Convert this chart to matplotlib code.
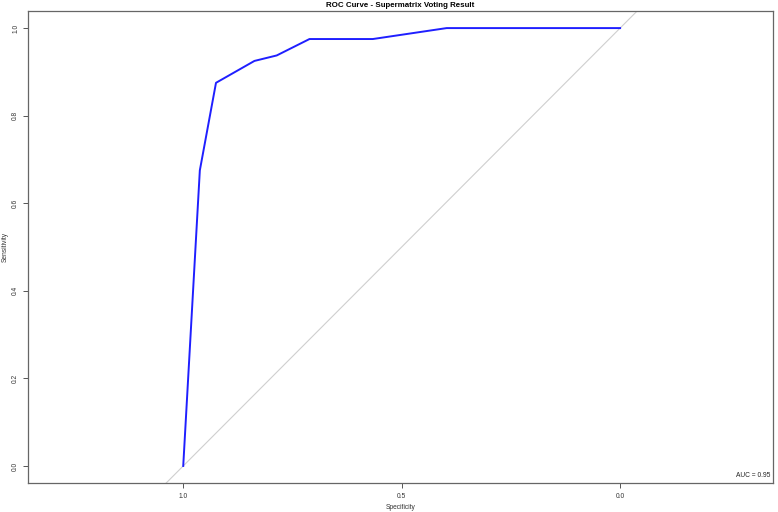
import matplotlib
matplotlib.use("Agg")
import matplotlib.pyplot as plt

# ROC points (pROC style, specificity axis reversed)
specificity = [1.0, 0.962, 0.925, 0.837, 0.786, 0.711, 0.566, 0.397, 0.0]
sensitivity = [0.0, 0.675, 0.875, 0.925, 0.9375, 0.975, 0.975, 1.0, 1.0]
auc_value = 0.95

x_ticks = [1.0, 0.5, 0.0]
y_ticks = [0.0, 0.2, 0.4, 0.6, 0.8, 1.0]

plt.rcParams["font.family"] = ["Liberation Sans", "DejaVu Sans"]

fig = plt.figure(figsize=(7.78, 5.12), dpi=100)
ax = fig.add_axes([0.0356, 0.0566, 0.958, 0.9219])

ax.axline((1, 0), (0, 1), color="#cfcfcf", lw=0.8, zorder=1)
ax.plot(specificity, sensitivity, color="#1f1fff", lw=1.4, zorder=2)

ax.set_xlim(1.356, -0.350)
ax.set_ylim(-0.039, 1.039)

ax.set_xticks(x_ticks)
ax.set_xticklabels([f"{t:.1f}" for t in x_ticks])
ax.set_yticks(y_ticks)
ax.set_yticklabels([f"{t:.1f}" for t in y_ticks], rotation=90, va="center")
ax.tick_params(axis="both", labelsize=4.8, colors="#555555", length=3.5,
               width=0.7)
ax.tick_params(axis="x", pad=3.5)
ax.tick_params(axis="y", pad=2.6)
for lbl in ax.get_xticklabels() + ax.get_yticklabels():
    lbl.set_color("#333333")

for sp in ax.spines.values():
    sp.set_color("#666666")
    sp.set_linewidth(0.9)

ax.set_xlabel("Specificity", fontsize=4.8, color="#333333", labelpad=3)
ax.set_ylabel("Sensitivity", fontsize=4.8, color="#333333", labelpad=2.5)
ax.set_title("ROC Curve - Supermatrix Voting Result", fontsize=5.7,
             fontweight="bold", pad=3)

ax.text(0.996, 0.016, f"AUC = {auc_value:.2f}", transform=ax.transAxes,
        ha="right", va="center", fontsize=4.8, color="#222222")

fig.savefig("out.png", dpi=100)
